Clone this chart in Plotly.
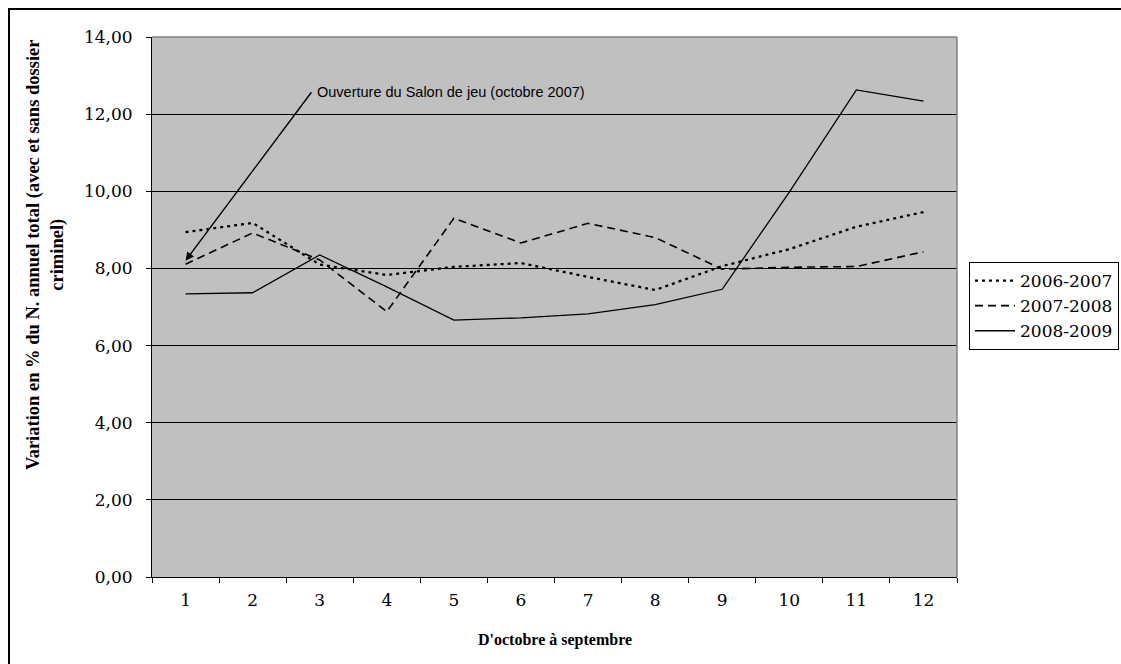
import plotly.graph_objects as go

# Monthly values, October (1) to September (12)
months = ["1", "2", "3", "4", "5", "6", "7", "8", "9", "10", "11", "12"]
season_labels = ["2006-2007", "2007-2008", "2008-2009"]
v_2006_2007 = [8.94, 9.18, 8.10, 7.83, 8.04, 8.14, 7.78, 7.44, 8.06, 8.50, 9.08, 9.46]
v_2007_2008 = [8.11, 8.92, 8.22, 6.88, 9.30, 8.66, 9.17, 8.80, 7.98, 8.03, 8.05, 8.43]
v_2008_2009 = [7.34, 7.37, 8.35, 7.52, 6.66, 6.72, 6.82, 7.06, 7.46, 9.98, 12.63, 12.34]
y_ticks = [0, 2, 4, 6, 8, 10, 12, 14]

W, H = 1121, 664
L, R, T, B = 152, 957, 37, 577  # plot area in pixels
pw, ph = R - L, B - T


def px_x(p):
    return (p - L) / pw


def px_y(p):
    return (B - p) / ph


serif = "DejaVu Serif"

fig = go.Figure()
fig.add_trace(go.Scatter(x=months, y=v_2006_2007, name=season_labels[0], mode="lines",
                         line=dict(color="black", width=2.3, dash="3px,4px")))
fig.add_trace(go.Scatter(x=months, y=v_2007_2008, name=season_labels[1], mode="lines",
                         line=dict(color="black", width=1.6, dash="8px,5px")))
fig.add_trace(go.Scatter(x=months, y=v_2008_2009, name=season_labels[2], mode="lines",
                         line=dict(color="black", width=1.3)))

fig.update_layout(
    width=W, height=H,
    margin=dict(l=L, r=W - R, t=T, b=H - B, autoexpand=False),
    paper_bgcolor="white",
    plot_bgcolor="#C0C0C0",
    separators=", ",
    showlegend=True,
    legend=dict(
        x=px_x(969), y=px_y(262), xanchor="left", yanchor="top",
        bgcolor="white", bordercolor="black", borderwidth=1,
        font=dict(family=serif, size=17, color="black"),
        tracegroupgap=0, itemwidth=40,
    ),
    xaxis=dict(
        type="category", range=[-0.5, 11.5], tickson="boundaries",
        ticks="outside", ticklen=5,
        tickcolor="black", showgrid=False, showline=True, linecolor="black",
        linewidth=1, zeroline=False, ticklabelstandoff=8,
        tickfont=dict(family=serif, size=17, color="black"),
    ),
    yaxis=dict(
        range=[0, 14], tickvals=y_ticks, tickformat=".2f", ticks="outside",
        ticklen=5, tickcolor="black", showgrid=True, gridcolor="black",
        gridwidth=1, showline=True, linecolor="black", linewidth=1,
        zeroline=False, ticklabelstandoff=10,
        tickfont=dict(family=serif, size=17, color="black"),
    ),
)

# top and right edges of the plot frame
fig.add_shape(type="line", xref="paper", yref="paper", x0=0, x1=1, y0=1, y1=1,
              line=dict(color="#808080", width=1.5))
fig.add_shape(type="line", xref="paper", yref="paper", x0=1, x1=1, y0=0, y1=1,
              line=dict(color="#808080", width=1.5))

# outer chart border
fig.add_shape(type="rect", xref="paper", yref="paper",
              x0=px_x(9), x1=px_x(1200), y0=px_y(700), y1=px_y(9),
              line=dict(color="black", width=2), fillcolor="rgba(0,0,0,0)")

# axis titles
fig.add_annotation(
    text="<b>Variation en % du N. annuel total (avec et sans dossier<br>criminel)</b>",
    xref="paper", yref="paper", x=px_x(46), y=px_y(255),
    xanchor="center", yanchor="middle", textangle=-90, showarrow=False,
    font=dict(family="Liberation Serif", size=18.5, color="black"),
    align="center",
)
fig.add_annotation(
    text="<b>D'octobre à septembre</b>", xref="paper", yref="paper",
    x=0.5, y=px_y(640), xanchor="center", yanchor="middle", showarrow=False,
    font=dict(family="Liberation Serif", size=16, color="black"),
)

# arrow pointing to the opening month (category index 0 = month "1")
fig.add_annotation(
    x=0, y=8.2, xref="x", yref="y", text="", showarrow=True,
    ax=127, ay=-170, arrowhead=2, arrowsize=1.2, arrowwidth=1.4,
    arrowcolor="black",
)
fig.add_annotation(
    text="Ouverture du Salon de jeu (octobre 2007)", xref="paper", yref="paper",
    x=px_x(315), y=px_y(92), xanchor="left", yanchor="middle", showarrow=False,
    font=dict(family="Liberation Sans", size=14.5, color="black"),
)

fig.write_html("out.html")
